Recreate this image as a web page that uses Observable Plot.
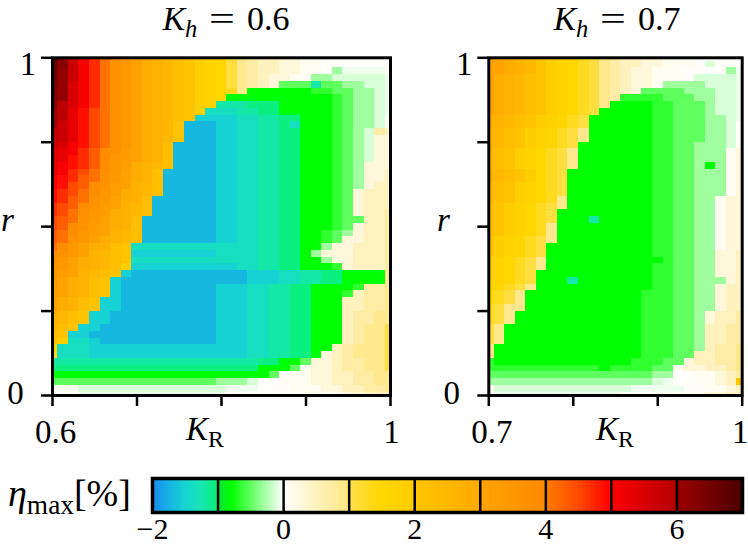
<!DOCTYPE html>
<html>
<head>
<meta charset="utf-8">
<script src="https://cdn.jsdelivr.net/npm/d3@7"></script>
<script src="https://cdn.jsdelivr.net/npm/@observablehq/plot@0.6"></script>
<style>
html,body{margin:0;padding:0;background:#fff;}
#root{position:relative;width:748px;height:546px;overflow:hidden;font-family:"Liberation Serif","Times New Roman","DejaVu Serif",serif;color:#000;}
#root svg{position:absolute;overflow:visible;}
#root svg g[aria-label*="axis"] path,#root svg g[aria-label*="axis"] line{stroke-width:2.5px;}
.t{position:absolute;line-height:1;white-space:nowrap;}
.sub{position:relative;top:0.28em;font-size:0.72em;line-height:1;}
.eq{display:inline-block;margin:0 0.45em;transform:scaleX(1.35);}
</style>
</head>
<body>
<div id="root"></div>
<script>
// value codes used in the row strings below
const codeChars  = ["0","1","2","3","4","+","5","6","7","8","9",",",".","A","B","C","D","E","F","G","H","I","J","K","L","M","N","O","P","Q","R","S","T","U","V","W","X","Y","Z","a","b","c","d","e","f","g","h","i"];
const codeValues = [-1.9,-1.7,-1.5,-1.35,-1.2,-1.06,-0.8,-0.65,-0.5,-0.3,-0.12,-0.05,0.03,0.1,0.3,0.5,0.7,0.9,1.1,1.3,1.5,1.7,1.9,2.1,2.3,2.5,2.7,2.9,3.1,3.3,3.5,3.7,3.9,4.1,4.3,4.5,4.7,4.9,5.1,5.3,5.5,5.7,5.9,6.1,6.3,6.5,6.7,6.9];

const kStep = 0.0125;   // K_R grid step
const rStep = 0.02;     // r grid step
const panelKh = ["0.6", "0.7"];
const panelKStart = [0.6, 0.7];

// rows from r = 1 (top) to r = 0 (bottom); columns from K_R = start to 1
const rowsKh06 = [
"ifcZXUSRPONMLKJIHFEDCCBBAA.......",
"hfcZXUSRPONMLKJIHFEDCCBBAA.......",
"hecZXUSRPONMLKJIHFEDCCBBAA.8,,,,.",
"hecZXUSRPONMLKJIHFEDCBBAA8899999,",
"gebZXUSRPONMLKJIHFEDCB7774778899,",
"gebZXUSRPONMLKJIHGE5555556677889,",
"febZXUSRPONMLKJIH555555555567889,",
"fdbZXUSRPONMLKJI444+++5555567889,",
"edaYWUSRPONMLKJ33344++5555567889,",
"edaYWUSRPONMLK22223344++55567889.",
"ecaYWUSRPONMK111223344+355567889A",
"dcaYWUSRPONMK111223344++5556789DC",
"dcaYWUSRPONMK111223344++5556789BB",
"cbZYWUSRPONL1111223344++5556789BB",
"baZXVTSQPONL1111223344++5556789BB",
"baYXVTRQPONL1111223344++5556789BB",
"aZYXVTRQONML1111223344++555678BBB",
"aZXWUTRPONL11111223344++555678BBC",
"ZYXVUSRPONL11111223344++555678BBC",
"ZYWVTSQPNML11111223344++555678BCC",
"YXWUTRQONML11111223344++55567BCCC",
"YXVUSRPONL111111223344++55567BCCC",
"XWVTSQPNML111111223344++55567BCCC",
"XWUTRQONML111111223344++55567BCCD",
"WVUSRPONL1111111223344++555677CCD",
"WVTSQPONL1111111223344++55567BCCD",
"VUTRQPNML1111111223344++55678BCCD",
"VUSRPONML1111111223344++5567BBCCD",
"UTRPONLK33333333333344++558BBCCCD",
"TSRPNMLK22222222333344++58BBBCCCD",
"TRPONMLK33333333333344++558BBCCCD",
"SRPONMLJ22222222223344++5556BCCCD",
"SQPNMLK2111111111112223344++5555E",
"RPONLK21111111111112223344++5555E",
"RPONLK21111111112223344++55556DDE",
"QPONLK21111111112223344++5556CDDE",
"QONLK221111111112223344++555CCDDE",
"PONLK221111111112223344++555CCDDE",
"OMLK2211111111112223344++555CDDEE",
"NMLK2211111111112223344++555CDDEE",
"MLK22111111111112223344++555CDEEF",
"LK221111111111112223344++555CDEEF",
"KJ332111111111112223344++555CDEEF",
"I3332222222222222223344++55CDEEEF",
"G3332222222222222223344++5BCDEEEF",
"44444444444444444444++557BBCDDEEF",
"++++++++++++++++++++5557ABBCDDEEF",
"5555555555555555555557.AABBCCDDEE",
"77777777777777778889..AAABBCCDDEE",
"AAA99999999999999,,,...AAABBCCDDE",
"...,,,,,,,,,,,,,,........AAABBCCD"
];

const rowsKh07 = [
"PPONMKJIHGFEDCCBBAAA.....",
"PPONMKJIHGFEDCCBBAAA.9...",
"PPONMKJIHGFEDCBBAAA....8,",
"PONMLKJIHGFEDCBBAAA.9999,",
"PONMLKJIHGFEDCBBA8888999,",
"PONMLKJIHGFEDCB777788899,",
"PONMLKJIHGFED66667778899,",
"PONMLKJIHGFE555566777899,",
"PONMLKJIHGF5555566777899,",
"ONMLKJIHGF55555566777889,",
"ONMLKJIHGF55555566777889.",
"NMLKJIHGFE55555566777889.",
"NMLKJIHGFE55555566777889.",
"NMLKJIHGF555555566778889A",
"MLKJIHGFE55555556677888AB",
"MLKJIHGFE55555556677888AB",
"MLKJIHGFE55555556677858AB",
"NMLKJHGF555555556677888AB",
"NMLKJHGF555555556677888AB",
"MLKJIHGF555555556677888AB",
"MLKJIHGF555555556677888AB",
"MLKJIHGE55555555667788ABB",
"LKJIHGFE55555555667788ABB",
"LKJIHGF555555555667788ABB",
"LKJIHGF555455555667788ABB",
"LKJIHGE555555555667788ABB",
"LKJIHGE555555555667788ABB",
"KJIHGFE555555555667788ABB",
"KJIHGF5555555555667788ABB",
"KJIHGF5555555555667788BBC",
"JIHGFE5555555555567788BBC",
"JIHGFE5555555555667788BBC",
"JIHGF55555555555667788BBC",
"JIHGF555455555556677888BC",
"IHGFE55555555555667788BCC",
"HGFE555555555556667788BCC",
"HGFE555555555556667788BCC",
"GFEE555555555556667788BCC",
"GFE555555555555666778BCCD",
"GFE555555555555666778BCCD",
"FE5555555555555666778CCDD",
"FE5555555555555666778CCDD",
"FE5555555555555666778CCDD",
"E55555555555555666778CDDE",
"E5555555555555566677CCDDE",
"6555555555555566677BCCDDE",
"666666666665666677ABBCCDE",
"777777777777777788..AABCD",
"88888888888888889,..AABCK",
"A9999999999999,,,,,..AABC",
".,,,,,,,,,,,,....AAAABBCC"
];

const xTicksKh06 = [0.6, 0.7, 0.8, 0.9, 1];
const xTicksKh07 = [0.7, 0.8, 0.9, 1];
const yTicks = [0, 0.25, 0.5, 0.75, 1];

const colorDomain = [-2, -1.75, -1.5, -1.25, -1.0001, -1, -0.8, 0, 0.9999, 1, 1.5, 1.9999, 2, 2.9999, 3, 3.9999, 4, 4.5, 5, 5.9999, 6, 7];
const colorRange = ["#1a88f0","#16b2e4","#16d2d2","#18e6b4","#08f070","#10e040","#00ff00","#ffffff","#ffe680","#ffe050","#ffd600","#ffcc00","#ffc600","#ffaa00","#ffa400","#ff8a00","#ff7c00","#ff4a00","#ff0000","#b40000","#9c0000","#4c0000"];
const legendTicks = [-2, 0, 2, 4, 6];
const legendSeparators = [-1, 0, 1, 2, 3, 4, 5, 6];

const codeMap = new Map(codeChars.map((c, i) => [c, codeValues[i]]));
const colorOpts = {type: "linear", domain: colorDomain, range: colorRange};
const FONT = '"Liberation Serif","Times New Roman","DejaVu Serif",serif';
const root = document.getElementById("root");

function cells(rows, k0) {
  const nCols = Math.round((1 - k0) / kStep) + 1;
  const out = [];
  if (rows.length !== 51) throw new Error("rows " + rows.length);
  rows.forEach((row, j) => {
    if (row.length !== nCols) throw new Error("row " + j + " has length " + row.length + " expected " + nCols);
    const r = 1 - j * rStep;
    for (let k = 0; k < nCols; k++) {
      const K = k0 + k * kStep;
      const v = codeMap.get(row[k]);
      if (v === undefined) throw new Error("bad code " + row[k]);
      out.push({
        x1: Math.max(k0, K - kStep / 2), x2: Math.min(1, K + kStep / 2),
        y1: Math.max(0, r - rStep / 2), y2: Math.min(1, r + rStep / 2), v
      });
    }
  });
  return out;
}

function fmt(d) { return Math.abs(d - 1) < 1e-9 ? "1" : Math.abs(d) < 1e-9 ? "0" : String(d); }

function panel(rows, k0, xTicks, width, mLeft, mRight, left, lastDx) {
  const svg = Plot.plot({
    width, height: 470,
    marginLeft: mLeft, marginRight: mRight, marginTop: 57.3, marginBottom: 75,
    style: {fontFamily: FONT, fontSize: "33px", background: "transparent", overflow: "visible", color: "black"},
    x: {domain: [k0, 1], ticks: xTicks, tickSize: 11, tickFormat: () => "", label: null},
    y: {domain: [0, 1], ticks: yTicks, tickSize: 11, tickFormat: () => "", label: null},
    color: colorOpts,
    marks: [
      Plot.rect(cells(rows, k0), {x1: "x1", x2: "x2", y1: "y1", y2: "y2", fill: "v", shapeRendering: "crispEdges"}),
      Plot.frame({stroke: "black", strokeWidth: 3}),
      // tick labels at the ends of the axes
      Plot.text([k0], {x: d => d, frameAnchor: "bottom", text: fmt, lineAnchor: "top", dy: 24, dx: 3, fontSize: 33}),
      Plot.text([1], {x: d => d, frameAnchor: "bottom", text: fmt, lineAnchor: "top", dy: 24, dx: lastDx, fontSize: 33}),
      Plot.text([1], {y: d => d, frameAnchor: "left", text: fmt, textAnchor: "middle", dx: -24.5, dy: 6.5, fontSize: 33}),
      Plot.text([0], {y: d => d, frameAnchor: "left", text: fmt, textAnchor: "middle", dx: -37, dy: -2, fontSize: 33})
    ]
  });
  svg.style.left = left + "px";
  svg.style.top = "0px";
  root.appendChild(svg);
}

panel(rowsKh06, panelKStart[0], xTicksKh06, 400, 52, 10, 0, 1);
panel(rowsKh07, panelKStart[1], xTicksKh07, 348, 88.3, 6.3, 400, -2);

// colour bar
const legendSteps = d3.range(-2, 7, 0.02);
const bar = Plot.plot({
  width: 748, height: 76,
  marginLeft: 152, marginRight: 6, marginTop: 8, marginBottom: 34,
  style: {fontFamily: FONT, fontSize: "30px", background: "transparent", overflow: "visible", color: "black"},
  x: {domain: [-2, 7], ticks: legendTicks, tickSize: 0, tickPadding: 5, label: null,
      tickFormat: d => (d < 0 ? "\u2212" + (-d) : String(d))},
  y: {domain: [0, 1], axis: null},
  color: colorOpts,
  marks: [
    Plot.rect(legendSteps, {x1: d => d, x2: d => Math.min(7, d + 0.021), y1: 0, y2: 1, fill: d => d + 0.01, shapeRendering: "crispEdges"}),
    Plot.ruleX(legendSeparators, {stroke: "black", strokeWidth: 2.5}),
    Plot.frame({stroke: "black", strokeWidth: 3.5})
  ]
});
bar.style.left = "0px";
bar.style.top = "470px";
root.appendChild(bar);

// texts
function addText(html, left, top, size, center) {
  const d = document.createElement("div");
  d.className = "t";
  d.innerHTML = html;
  d.style.left = left + "px";
  d.style.top = top + "px";
  d.style.fontSize = size + "px";
  if (center) d.style.transform = "translateX(-50%)";
  root.appendChild(d);
}
addText('<i>K</i><span class="sub"><i>h</i></span><span class="eq">=</span>' + panelKh[0], 226, 2, 34, true);
addText('<i>K</i><span class="sub"><i>h</i></span><span class="eq">=</span>' + panelKh[1], 617, 2, 34, true);
addText('<i>K</i><span class="sub">R</span>', 186, 413, 33, false);
addText('<i>K</i><span class="sub">R</span>', 596, 413, 33, false);
addText('<i>r</i>', 1, 204, 33, false);
addText('<i>r</i>', 437, 204, 33, false);
addText('<i>η</i><span class="sub">max</span>[%]', 8, 474, 38, false);
</script>
</body>
</html>
